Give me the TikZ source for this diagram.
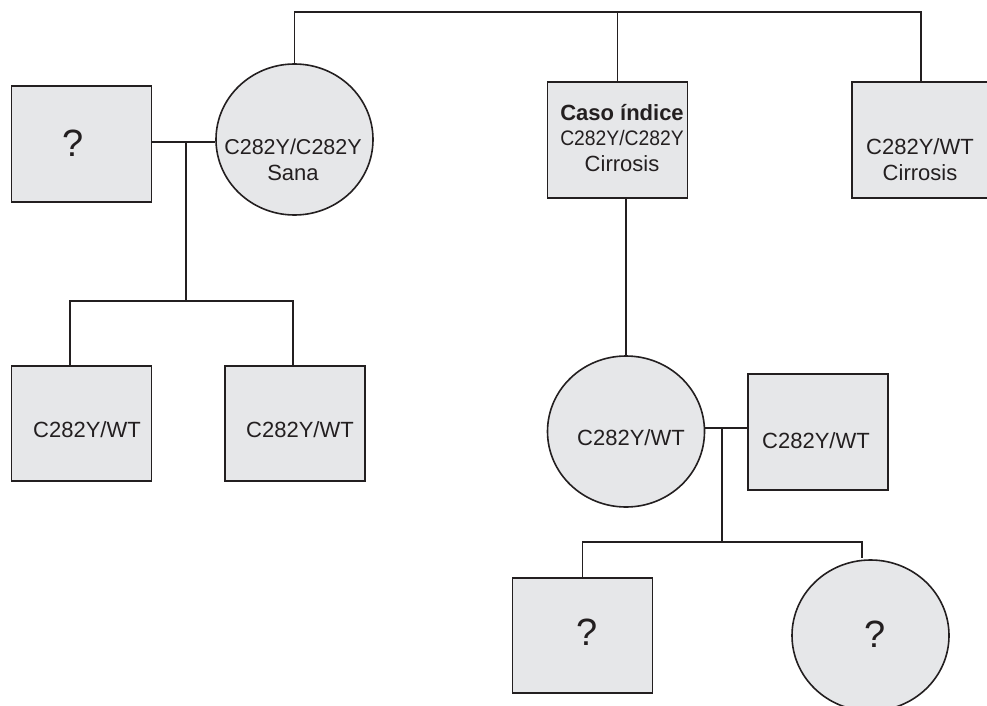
\documentclass[tikz,border=0pt]{standalone}
\usepackage{fontspec}
\setmainfont{Liberation Sans}
\usetikzlibrary{shapes.geometric}
\definecolor{boxfill}{HTML}{E6E7E9}
\definecolor{ink}{HTML}{231F20}
\begin{document}
\begin{tikzpicture}[x=1pt,y=-1pt,
  male/.style={draw=ink,line width=1.9pt,fill=boxfill,rectangle,inner sep=0pt,
    minimum width=140pt,minimum height=116pt},
  female/.style={draw=ink,line width=1.6pt,fill=boxfill,ellipse,inner sep=0pt,
    minimum width=157pt,minimum height=151pt},
  lbl/.style={text=ink,align=center,inner sep=0pt,font=\fontsize{22}{26}\selectfont},
  qmark/.style={text=ink,inner sep=0pt,font=\fontsize{38}{40}\selectfont},
  link/.style={draw=ink,line width=1.7pt}]
\useasboundingbox (0,0) rectangle (987,706);

% individuals
\node[male]   (q1)      at (81.5,144)   {};
\node[female] (sana)    at (294.5,139.5){};
\node[male]   (caso)    at (617.5,140)  {};
\node[male,minimum width=138pt] (hermano) at (921,140) {};
\node[male,minimum height=115pt] (hijo1) at (81.5,423.5) {};
\node[male,minimum height=115pt] (hijo2) at (295,423.5) {};
\node[female] (hija)    at (626,431.5)  {};
\node[male]   (pareja)  at (818,432)    {};
\node[male,minimum height=115pt] (nieto) at (582.5,635.5) {};
\node[female] (nieta)   at (870.5,635.5){};

% labels
\node[qmark] (tq1)   at (73,143)  {?};
\node[lbl] (tsana) at (293,160) {{\fontsize{21.5}{26}\selectfont C282Y/C282Y}\\Sana};
\node[lbl] (tcaso) at (622,138)
  {{\bfseries Caso índice}\\[-1pt]\scalebox{0.92}[1]{\fontsize{21}{24}\selectfont C282Y/C282Y}\\Cirrosis};
\node[lbl] (therm) at (920,160) {C282Y/WT\\Cirrosis};
\node[lbl] (th1)   at (87,430)  {C282Y/WT};
\node[lbl] (th2)   at (300,430) {C282Y/WT};
\node[lbl] (thija) at (631,438) {C282Y/WT};
\node[lbl] (tpar)  at (816,441) {C282Y/WT};
\node[qmark] (tnieto) at (587,632) {?};
\node[qmark] (tnieta) at (875,634) {?};

% sibship line of the first generation
\coordinate (sib) at (0,12);
\draw[link] (sana.north) -- (sana.north |- sib) -| (hermano.north);
\draw[link] (caso.north) -- (caso.north |- sib);

% first couple and their children
\coordinate (m1) at (186,142);
\coordinate (s1) at (0,301);
\draw[link] (q1.east |- m1) -- (sana.west |- m1);
\draw[link] (m1) -- (m1 |- s1);
\draw[link] ([xshift=-11.5pt]hijo1.north) -- ([xshift=-11.5pt]hijo1.north |- s1)
  -- ([xshift=-2pt]hijo2.north |- s1) -- ([xshift=-2pt]hijo2.north);

% index case to daughter
\draw[link] (hija.north) -- (hija.north |- caso.south);

% second couple and their children
\coordinate (m2) at (722,428);
\coordinate (s2) at (0,542);
\draw[link] (hija.east |- m2) -- (pareja.west |- m2);
\draw[link] (m2) -- (m2 |- s2);
\draw[link] (nieto.north) -- (nieto.north |- s2)
  -- ([xshift=-8.5pt]nieta.north |- s2) -- ([xshift=-8.5pt,yshift=1pt]nieta.north);
\end{tikzpicture}
\end{document}
